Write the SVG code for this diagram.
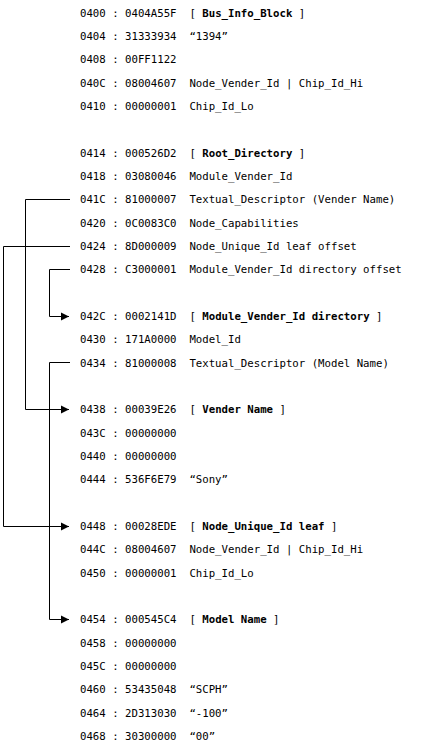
<svg xmlns="http://www.w3.org/2000/svg" width="431" height="747" viewBox="0 0 431 747">
<style>
text{font-family:"DejaVu Sans Mono","Liberation Mono",monospace;font-size:10.7px;fill:#000;white-space:pre}
.b{font-weight:bold}
.c{fill:none;stroke:#000;stroke-width:1}
</style>
<defs>
<marker id="ah" markerUnits="userSpaceOnUse" markerWidth="10" markerHeight="10" refX="9" refY="5" orient="auto">
<path d="M1,1 L9,5 L1,9 Z" fill="#000"/>
</marker>
</defs>
<rect width="431" height="747" fill="#fff"/>
<g id="connectors">
<path class="c" d="M70,199.5 H25.5 V409.5 H69" marker-end="url(#ah)"/>
<path class="c" d="M70,246.5 H3.5 V526.5 H69" marker-end="url(#ah)"/>
<path class="c" d="M70,269.5 H49.5 V316.5 H69" marker-end="url(#ah)"/>
<path class="c" d="M70,362.5 H49.5 V619.5 H69" marker-end="url(#ah)"/>
</g>
<g id="row-0400"><text x="80" y="16.7" xml:space="preserve">0400 : 0404A55F  [ <tspan class="b">Bus_Info_Block</tspan> ]</text></g>
<g id="row-0404"><text x="80" y="40" xml:space="preserve">0404 : 31333934  “1394”</text></g>
<g id="row-0408"><text x="80" y="63.4" xml:space="preserve">0408 : 00FF1122</text></g>
<g id="row-040C"><text x="80" y="86.7" xml:space="preserve">040C : 08004607  Node_Vender_Id | Chip_Id_Hi</text></g>
<g id="row-0410"><text x="80" y="110" xml:space="preserve">0410 : 00000001  Chip_Id_Lo</text></g>
<g id="row-0414"><text x="80" y="156.7" xml:space="preserve">0414 : 000526D2  [ <tspan class="b">Root_Directory</tspan> ]</text></g>
<g id="row-0418"><text x="80" y="180" xml:space="preserve">0418 : 03080046  Module_Vender_Id</text></g>
<g id="row-041C"><text x="80" y="203.4" xml:space="preserve">041C : 81000007  Textual_Descriptor (Vender Name)</text></g>
<g id="row-0420"><text x="80" y="226.7" xml:space="preserve">0420 : 0C0083C0  Node_Capabilities</text></g>
<g id="row-0424"><text x="80" y="250" xml:space="preserve">0424 : 8D000009  Node_Unique_Id leaf offset</text></g>
<g id="row-0428"><text x="80" y="273.3" xml:space="preserve">0428 : C3000001  Module_Vender_Id directory offset</text></g>
<g id="row-042C"><text x="80" y="320" xml:space="preserve">042C : 0002141D  [ <tspan class="b">Module_Vender_Id directory</tspan> ]</text></g>
<g id="row-0430"><text x="80" y="343.3" xml:space="preserve">0430 : 171A0000  Model_Id</text></g>
<g id="row-0434"><text x="80" y="366.7" xml:space="preserve">0434 : 81000008  Textual_Descriptor (Model Name)</text></g>
<g id="row-0438"><text x="80" y="413.3" xml:space="preserve">0438 : 00039E26  [ <tspan class="b">Vender Name</tspan> ]</text></g>
<g id="row-043C"><text x="80" y="436.7" xml:space="preserve">043C : 00000000</text></g>
<g id="row-0440"><text x="80" y="460" xml:space="preserve">0440 : 00000000</text></g>
<g id="row-0444"><text x="80" y="483.3" xml:space="preserve">0444 : 536F6E79  “Sony”</text></g>
<g id="row-0448"><text x="80" y="530" xml:space="preserve">0448 : 00028EDE  [ <tspan class="b">Node_Unique_Id leaf</tspan> ]</text></g>
<g id="row-044C"><text x="80" y="553.3" xml:space="preserve">044C : 08004607  Node_Vender_Id | Chip_Id_Hi</text></g>
<g id="row-0450"><text x="80" y="576.7" xml:space="preserve">0450 : 00000001  Chip_Id_Lo</text></g>
<g id="row-0454"><text x="80" y="623.3" xml:space="preserve">0454 : 000545C4  [ <tspan class="b">Model Name</tspan> ]</text></g>
<g id="row-0458"><text x="80" y="646.7" xml:space="preserve">0458 : 00000000</text></g>
<g id="row-045C"><text x="80" y="670" xml:space="preserve">045C : 00000000</text></g>
<g id="row-0460"><text x="80" y="693.3" xml:space="preserve">0460 : 53435048  “SCPH”</text></g>
<g id="row-0464"><text x="80" y="716.7" xml:space="preserve">0464 : 2D313030  “-100”</text></g>
<g id="row-0468"><text x="80" y="740" xml:space="preserve">0468 : 30300000  “00”</text></g>
</svg>
